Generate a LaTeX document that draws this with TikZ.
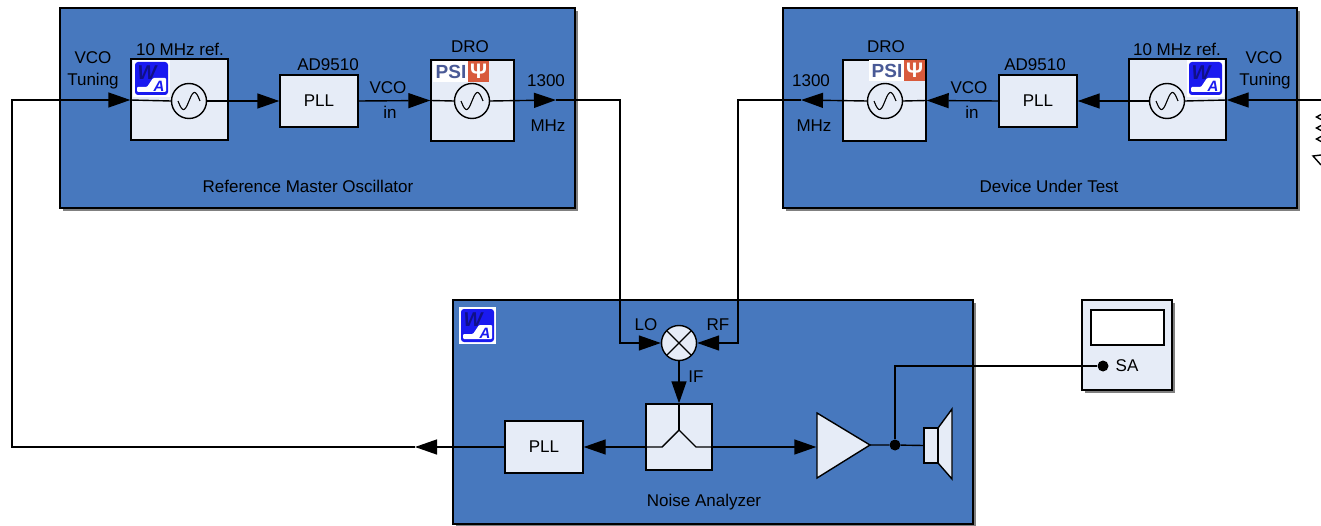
\documentclass[tikz,border=0pt]{standalone}
\usepackage{fontspec}
\setmainfont{Liberation Sans}
\usetikzlibrary{arrows.meta,shadows}

\definecolor{panelblue}{HTML}{4778BE}
\definecolor{blockfill}{HTML}{E6ECF7}
\definecolor{logoblue}{HTML}{1A1AF0}
\definecolor{logonavy}{HTML}{10108A}
\definecolor{psislate}{HTML}{4A5A96}
\definecolor{psired}{HTML}{D85A3C}

\tikzset{
    lbl/.style={font=\fontsize{17}{20}\selectfont, inner sep=0pt},
    panel/.style={draw=black, line width=1.4pt, fill=panelblue, inner sep=0pt,
        general shadow={fill=black!50, shadow xshift=3.2pt, shadow yshift=-3.2pt}},
    block/.style={draw=black, line width=1.4pt, fill=blockfill, inner sep=0pt, font=\fontsize{17}{20}\selectfont},
    sine/.style={circle, draw=black, line width=1.4pt, fill=blockfill, inner sep=0pt, minimum size=35pt,
        path picture={\draw[line width=1.1pt, shift={(path picture bounding box.center)}]
            plot[domain=-11:11, samples=33, smooth] (\x, {-8.5*sin(\x*16.36)});}},
    mixer/.style={circle, draw=black, line width=1.4pt, fill=blockfill, inner sep=0pt, minimum size=35pt,
        path picture={\draw[line width=1.2pt] (path picture bounding box.north west) -- (path picture bounding box.south east);
            \draw[line width=1.2pt] (path picture bounding box.south west) -- (path picture bounding box.north east);}},
    junction/.style={circle, fill=black, inner sep=0pt, minimum size=11pt},
    wire/.style={line width=1.4pt, line join=miter},
    sig/.style={wire, -{Triangle[length=22pt, width=15pt]}},
    walogo/.pic={
        \fill[white] (0, 0) rectangle (37, 37);
        \fill[logoblue, rounded corners=3pt] (2, 2) rectangle (35, 35);
        \fill[white, rounded corners=1pt] (4, 32) -- (4, 27) -- (14, 27) -- (20, 18) -- (33, 18) -- (33, 32) -- cycle;
        \node[inner sep=0pt, font=\fontsize{20}{20}\selectfont\bfseries\itshape, text=logonavy] (-w) at (14, 13) {W};
        \node[inner sep=0pt, font=\fontsize{15}{15}\selectfont\bfseries\itshape, text=logoblue] (-a) at (26, 26) {A};
    },
    psilogo/.pic={
        \fill[white] (0, 0) rectangle (36, 21);
        \fill[psired] (35, 0) rectangle (56, 21);
        \node[inner sep=0pt, font=\fontsize{19}{19}\selectfont\bfseries, text=psislate] (-p) at (18, 10.5) {PSI};
        \node[inner sep=0pt, font=\fontsize{21}{21}\selectfont\bfseries, text=white] (-t) at (45.5, 10) {Ψ};
    },
}

\begin{document}
\begin{tikzpicture}[x=1pt, y=-1pt]
        \useasboundingbox (0, 0) rectangle (1321, 526);
        \clip (0, 0) rectangle (1321, 526);

        % panels
        \node[panel, minimum width=515pt, minimum height=200pt] (refPanel) at (317.5, 108) {};
        \node[panel, minimum width=514pt, minimum height=200pt] (dutPanel) at (1040, 108) {};
        \node[panel, minimum width=520pt, minimum height=224pt] (naPanel) at (713, 412) {};
        \node[panel, fill=blockfill, minimum width=90pt, minimum height=90pt] (saBox) at (1127, 345) {};
        \node[draw=black, line width=1.4pt, fill=white, inner sep=0pt, minimum width=73pt, minimum height=35pt] (saScreen) at (1127.5, 327.5) {};

        % reference master oscillator
        \node[block, minimum width=97pt, minimum height=81pt] (oscRef) at (179.5, 99.5) {};
        \node[block, minimum width=78pt, minimum height=52pt] (pllRef) at (319, 101) {PLL};
        \node[block, minimum width=83pt, minimum height=81pt] (droRef) at (472.5, 100.5) {};
        \pic (logoRef) at (133, 60) {walogo};
        \pic (psiRef) at (433, 61) {psilogo};
        \node[sine] (sineOscRef) at (189, 101) {};
        \node[sine] (sineDroRef) at (472, 101) {};

        % device under test
        \node[block, minimum width=83pt, minimum height=81pt] (droDut) at (884.5, 100.5) {};
        \node[block, minimum width=78pt, minimum height=52pt] (pllDut) at (1038, 101) {PLL};
        \node[block, minimum width=97pt, minimum height=81pt] (oscDut) at (1177.5, 99.5) {};
        \pic (psiDut) at (869, 60) {psilogo};
        \pic (logoDut) at (1187, 60) {walogo};
        \node[sine] (sineDroDut) at (885, 101) {};
        \node[sine] (sineOscDut) at (1167, 101) {};

        % noise analyzer
        \pic (logoNa) at (459, 307) {walogo};
        \node[mixer] (mix) at (679, 343) {};
        \node[block, minimum width=66pt, minimum height=66pt] (split) at (679, 437) {};
        \node[block, minimum width=78pt, minimum height=52pt] (pllNa) at (544, 447) {PLL};
        \coordinate (ampIn) at (817, 445);
        \coordinate (ampOut) at (870, 445);
        \filldraw[fill=blockfill, line width=1.4pt, line join=miter] (817, 413) -- (ampOut) -- (817, 478) -- cycle;
        \filldraw[fill=blockfill, line width=1.4pt, line join=miter] (938, 428) -- (952, 409) -- (952, 479) -- (938, 463) -- cycle;
        \node[block, minimum width=14pt, minimum height=35pt] (spk) at (931, 445.5) {};
        \node[junction] (jn) at (895, 445) {};
        \node[junction] (saDot) at (1103, 366) {};

        % splitter
        \coordinate (splitY) at (679, 430);
        \coordinate (splitL) at (646, 447);
        \coordinate (splitR) at (712, 447);
        \draw[wire] (split.north) -- (splitY);
        \draw[wire] (splitL) -- (662, 447) -- (splitY) -- (696, 447) -- (splitR);

        % named wire points
        \coordinate (cornerBL) at (12, 447);
        \coordinate (cornerTL) at (12, 100);
        \coordinate (tipOutRef) at (556, 100);
        \coordinate (cornerLoT) at (620, 100);
        \coordinate (cornerLoB) at (620, 343);
        \coordinate (cornerRfT) at (738, 100);
        \coordinate (cornerRfB) at (738, 343);
        \coordinate (tipOutDut) at (801, 100);
        \coordinate (tipLeftNa) at (415, 447);
        \coordinate (tipAmp) at (816.3, 447);
        \coordinate (edgeR) at (1321, 100);
        \coordinate (cornerSa) at (895, 366);

        % signal paths
        \draw[sig] (pllNa.west) -- (tipLeftNa);
        \draw[sig] (tipLeftNa) -- (cornerBL) -- (cornerTL) -- (oscRef.west |- cornerTL);
        \draw[wire] (oscRef.west |- cornerTL) -- (sineOscRef.west);
        \draw[sig] (sineOscRef.east) -- (pllRef.west);
        \draw[sig] (pllRef.east) -- (droRef.west);
        \draw[wire] (droRef.west) -- (sineDroRef.west);
        \draw[sig] (sineDroRef.east) -- (tipOutRef);
        \draw[sig] (tipOutRef) -- (cornerLoT) -- (cornerLoB) -- (mix.west);

        \draw[sig] (edgeR) -- (oscDut.east |- edgeR);
        \draw[wire] (oscDut.east |- edgeR) -- (sineOscDut.east);
        \draw[sig] (sineOscDut.west) -- (pllDut.east);
        \draw[sig] (pllDut.west) -- (droDut.east);
        \draw[wire] (droDut.east) -- (sineDroDut.east);
        \draw[sig] (sineDroDut.west) -- (tipOutDut);
        \draw[sig] (tipOutDut) -- (cornerRfT) -- (cornerRfB) -- (mix.east);

        \draw[sig] (mix.south) -- (split.north);
        \draw[sig] (splitL) -- (pllNa.east);
        \draw[sig] (splitR) -- (tipAmp);
        \draw[wire] (ampOut) -- (jn) -- (spk.west);
        \draw[wire] (jn) -- (cornerSa) -- (saDot);

        % cut off at the right edge
        \draw[line width=1.4pt] (1321, 114.5) -- (1316.5, 117) -- (1321, 119.5);
        \draw[line width=1.4pt] (1321, 125.5) -- (1316.5, 128) -- (1321, 130.5);
        \draw[line width=1.4pt] (1321, 136.5) -- (1316.5, 139) -- (1321, 141.5);
        \draw[line width=1.4pt] (1321, 155) -- (1313, 156) -- (1321, 165);

        % labels
        \node[lbl] (lblTuneRefA) at (93, 58) {VCO};
        \node[lbl] (lblTuneRefB) at (93, 81) {Tuning};
        \node[lbl] (lblOscRef) at (180, 49) {10 MHz ref.};
        \node[lbl] (lblAdRef) at (328, 65) {AD9510};
        \node[lbl] (lblVcoRef) at (388, 88) {VCO};
        \node[lbl] (lblInRef) at (390, 112) {in};
        \node[lbl] (lblDroRef) at (470, 47) {DRO};
        \node[lbl] (lblFreqRefA) at (546, 81) {1300};
        \node[lbl] (lblFreqRefB) at (548, 126) {MHz};
        \node[lbl] (lblRef) at (308, 186) {Reference Master Oscillator};

        \node[lbl] (lblDroDut) at (886, 47) {DRO};
        \node[lbl] (lblFreqDutA) at (811, 81) {1300};
        \node[lbl] (lblFreqDutB) at (814, 126) {MHz};
        \node[lbl] (lblVcoDut) at (969, 88) {VCO};
        \node[lbl] (lblInDut) at (972, 112) {in};
        \node[lbl] (lblAdDut) at (1035, 65) {AD9510};
        \node[lbl] (lblOscDut) at (1177, 49) {10 MHz ref.};
        \node[lbl] (lblTuneDutA) at (1264, 58) {VCO};
        \node[lbl] (lblTuneDutB) at (1265, 81) {Tuning};
        \node[lbl] (lblDut) at (1049, 186) {Device Under Test};

        \node[lbl] (lblLo) at (646, 325) {LO};
        \node[lbl] (lblRf) at (718, 325) {RF};
        \node[lbl] (lblIf) at (696, 377) {IF};
        \node[lbl] (lblNa) at (704, 502) {Noise Analyzer};
        \node[lbl] (lblSa) at (1127, 366) {SA};
\end{tikzpicture}
\end{document}
